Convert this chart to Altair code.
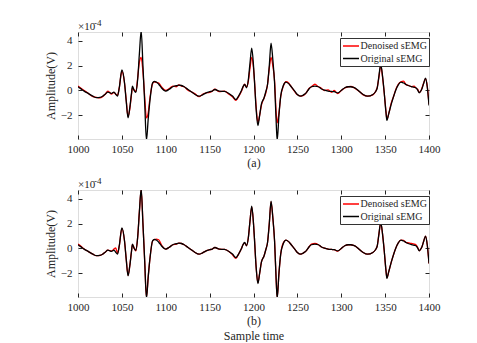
import altair as alt
import pandas as pd

# ---- data (amplitude in units of 1e-4 V) ----
samples = [1000, 1003, 1007, 1012, 1017, 1021, 1025, 1028, 1031, 1034, 1036, 1038, 1041, 1043, 1045, 1047,
           1050, 1053, 1055, 1057, 1059, 1061, 1062, 1064, 1066, 1068, 1070, 1072, 1074, 1076, 1078, 1080,
           1082, 1085, 1087, 1089, 1092, 1095, 1100, 1104, 1108, 1112, 1115, 1118, 1121, 1125, 1129, 1133,
           1138, 1142, 1146, 1150, 1153, 1156, 1161, 1167, 1172, 1176, 1180, 1183, 1186, 1188, 1190, 1192,
           1194, 1196, 1198, 1200, 1201, 1203, 1205, 1207, 1209, 1212, 1214, 1216, 1218, 1220, 1222, 1224,
           1226, 1227, 1229, 1231, 1234, 1237, 1240, 1243, 1247, 1250, 1254, 1257, 1260, 1263, 1266, 1270,
           1274, 1277, 1281, 1285, 1289, 1292, 1296, 1300, 1304, 1308, 1311, 1314, 1317, 1321, 1325, 1330,
           1336, 1339, 1341, 1343, 1345, 1347, 1349, 1351, 1352, 1354, 1357, 1360, 1362, 1365, 1368, 1371,
           1374, 1377, 1380, 1383, 1385, 1387, 1389, 1391, 1392, 1394, 1396, 1398, 1400]

original = [0.3, 0.15, -0.05, -0.25, -0.46, -0.58, -0.55, -0.46, -0.3, -0.13, -0.18, -0.24, -0.13, -0.3, -0.46, 0.2,
            1.65, 0.62, -0.9, -2.2, -1.4, -0.2, 0.35, 0.0, -0.15, 0.9, 3.0, 4.8, 2.0, -1.0, -4.0, -2.3,
            -0.8, 0.62, 0.72, 0.7, 0.5, 0.22, -0.05, 0.1, 0.3, 0.38, 0.43, 0.4, 0.3, 0.1, -0.1, -0.3,
            -0.46, -0.35, -0.19, -0.1, -0.05, 0.08, -0.05, -0.08, -0.24, -0.45, -0.73, -0.45, -0.05, 0.3, 0.48, 0.22,
            0.8, 2.2, 3.4, 2.0, 0.89, -1.5, -2.82, -2.0, -1.1, -0.6, -0.1, 0.48, 2.0, 3.8, 2.5, 0.62,
            -2.8, -4.0, -2.0, -0.46, 0.4, 0.67, 0.55, 0.3, -0.05, -0.32, -0.46, -0.35, -0.19, 0.1, 0.3, 0.35,
            0.3, 0.14, 0.02, -0.05, -0.08, -0.1, -0.19, 0.0, 0.22, 0.3, 0.3, 0.25, 0.14, -0.1, -0.32, -0.46,
            -0.32, -0.1, 0.2, 1.2, 2.1, 1.2, -0.2, -1.8, -2.4, -1.9, -1.1, -0.4, 0.0, 0.45, 0.67, 0.6,
            0.48, 0.38, 0.3, 0.25, 0.22, 0.05, -0.19, 0.0, 0.14, 0.6, 1.0, 0.3, -1.2]

denoised_a = [0.35, 0.2, 0.0, -0.25, -0.5, -0.55, -0.6, -0.5, -0.3, -0.05, -0.15, -0.3, -0.15, -0.3, -0.4, 0.2,
              1.55, 0.6, -0.8, -2.1, -1.5, -0.3, 0.2, 0.05, -0.1, 1.0, 2.3, 2.65, 1.5, -0.5, -2.2, -1.8,
              -0.6, 0.55, 0.7, 0.65, 0.6, 0.3, 0.0, 0.15, 0.35, 0.3, 0.45, 0.35, 0.3, 0.05, -0.1, -0.25,
              -0.5, -0.3, -0.2, -0.15, -0.05, 0.1, -0.1, -0.05, -0.3, -0.5, -0.8, -0.5, -0.1, 0.25, 0.5, 0.3,
              0.7, 1.8, 2.65, 1.8, 0.9, -1.3, -2.6, -2.0, -1.2, -0.6, -0.2, 0.5, 1.8, 2.65, 2.0, 0.8,
              -2.0, -2.6, -1.8, -0.5, 0.35, 0.7, 0.6, 0.3, -0.1, -0.35, -0.45, -0.4, -0.2, 0.15, 0.3, 0.5,
              0.3, 0.2, 0.0, 0.05, -0.15, 0.0, -0.25, 0.0, 0.2, 0.3, 0.32, 0.25, 0.1, -0.1, -0.35, -0.45,
              -0.35, -0.1, 0.25, 1.1, 2.0, 1.1, -0.2, -1.7, -2.3, -1.9, -1.0, -0.4, 0.05, 0.5, 0.7, 0.75,
              0.45, 0.4, 0.3, 0.35, 0.2, 0.1, -0.15, 0.0, 0.2, 0.6, 0.95, 0.35, -1.1]

denoised_b = [0.35, 0.2, -0.05, -0.25, -0.46, -0.58, -0.55, -0.46, -0.3, -0.13, -0.18, -0.2, -0.05, 0.05, -0.4, 0.2,
              1.6, 0.6, -0.9, -2.15, -1.4, -0.2, 0.3, 0.05, -0.2, 0.9, 3.0, 4.7, 2.0, -1.0, -3.9, -2.3,
              -0.8, 0.6, 0.72, 0.75, 0.7, 0.3, -0.05, 0.1, 0.3, 0.35, 0.43, 0.4, 0.3, 0.1, -0.1, -0.3,
              -0.46, -0.35, -0.19, -0.1, -0.05, 0.08, -0.05, -0.08, -0.24, -0.5, -0.8, -0.45, -0.05, 0.3, 0.45, 0.22,
              0.8, 2.2, 3.35, 2.0, 0.89, -1.5, -2.75, -2.0, -1.1, -0.6, -0.1, 0.48, 2.0, 3.75, 2.5, 0.62,
              -2.8, -3.9, -2.0, -0.46, 0.45, 0.67, 0.55, 0.3, -0.05, -0.32, -0.46, -0.35, -0.19, 0.1, 0.35, 0.4,
              0.3, 0.14, 0.02, -0.05, -0.08, -0.1, -0.22, 0.0, 0.22, 0.3, 0.3, 0.25, 0.14, -0.1, -0.32, -0.46,
              -0.32, -0.1, 0.2, 1.2, 2.05, 1.2, -0.2, -1.8, -2.35, -1.9, -1.1, -0.4, 0.0, 0.45, 0.67, 0.65,
              0.48, 0.45, 0.4, 0.35, 0.3, 0.1, -0.19, 0.0, 0.14, 0.6, 1.0, 0.3, -1.2]

x_ticks = [1000, 1050, 1100, 1150, 1200, 1250, 1300, 1350, 1400]
y_ticks = [-2, 0, 2, 4]
series_names = ["Denoised sEMG", "Original sEMG"]
series_colors = ["#ff0000", "#000000"]

FONT = "Liberation Serif"
INK = "#262626"


def panel(denoised, xtitle):
    n = len(samples)
    df = pd.DataFrame({
        "sample": samples + samples,
        "amp": denoised + original,
        "series": [series_names[0]] * n + [series_names[1]] * n,
    })
    xs = alt.Scale(domain=[1000, 1400], nice=False, zero=False)
    ys = alt.Scale(domain=[-3.9, 4.7], nice=False, zero=False)
    color = alt.Color(
        "series:N",
        scale=alt.Scale(domain=series_names, range=series_colors),
        legend=alt.Legend(
            title=None, orient="none", legendX=262, legendY=6, direction="vertical",
            fillColor="white", strokeColor="#333333", padding=2,
            labelFont=FONT, labelFontSize=10, labelColor=INK, labelOffset=3.5,
            labelExpr="datum.label + '    '",
            symbolType="M-1.6,0L1.6,0", symbolSize=100, symbolStrokeWidth=1.5,
            symbolOffset=3, rowPadding=1.5,
        ),
    )
    common_axis = dict(tickSize=4, offset=-4, domain=False, grid=False, tickColor=INK,
                       labelFont=FONT, labelFontSize=11, labelColor=INK,
                       titleFont=FONT, titleFontSize=12, titleColor=INK, titleFontWeight="normal")
    base = alt.Chart(df)
    red = base.transform_filter(alt.datum.series == series_names[0]).mark_line(
        clip=True, strokeWidth=1.3, interpolate="monotone"
    ).encode(
        x=alt.X("sample:Q", scale=xs,
                axis=alt.Axis(orient="bottom", values=x_ticks, format="d", labelPadding=4, title=xtitle,
                              titlePadding=3, titleLineHeight=15, labelFlush=False, **common_axis)),
        y=alt.Y("amp:Q", scale=ys,
                axis=alt.Axis(orient="left", values=y_ticks, format="d", labelPadding=6, title="Amplitude(V)",
                              titlePadding=3, **common_axis)),
        color=color,
    )
    black = base.transform_filter(alt.datum.series == series_names[1]).mark_line(
        clip=True, strokeWidth=1.3, interpolate="monotone"
    ).encode(
        x=alt.X("sample:Q", scale=xs,
                axis=alt.Axis(orient="top", values=x_ticks, labels=False, title=None, **common_axis)),
        y=alt.Y("amp:Q", scale=ys,
                axis=alt.Axis(orient="right", values=y_ticks, labels=False, title=None, **common_axis)),
        color=color,
    )
    exp_base = alt.Chart(pd.DataFrame({"t": ["×10"]}))
    t1 = exp_base.mark_text(font=FONT, fontSize=11, color=INK, align="left", baseline="alphabetic").encode(
        x=alt.value(0), y=alt.value(-2), text=alt.value("×10"))
    t2 = exp_base.mark_text(font=FONT, fontSize=9, color=INK, align="left", baseline="alphabetic").encode(
        x=alt.value(16), y=alt.value(-6.5), text=alt.value("-4"))
    return alt.layer(red, black, t1, t2).resolve_axis(x="independent", y="independent").properties(
        width=351, height=107)


top = panel(denoised_a, "(a)")
bottom = panel(denoised_b, ["(b)", "Sample time"])

chart = alt.vconcat(top, bottom, spacing=7).resolve_scale(color="independent").resolve_legend(
    color="independent"
).properties(
    padding={"left": 35, "top": 10, "right": 5, "bottom": 0}
).configure_view(stroke=INK, strokeWidth=1).configure(font=FONT)

chart.save("out.html", embed_options={"renderer": "svg", "actions": False})
